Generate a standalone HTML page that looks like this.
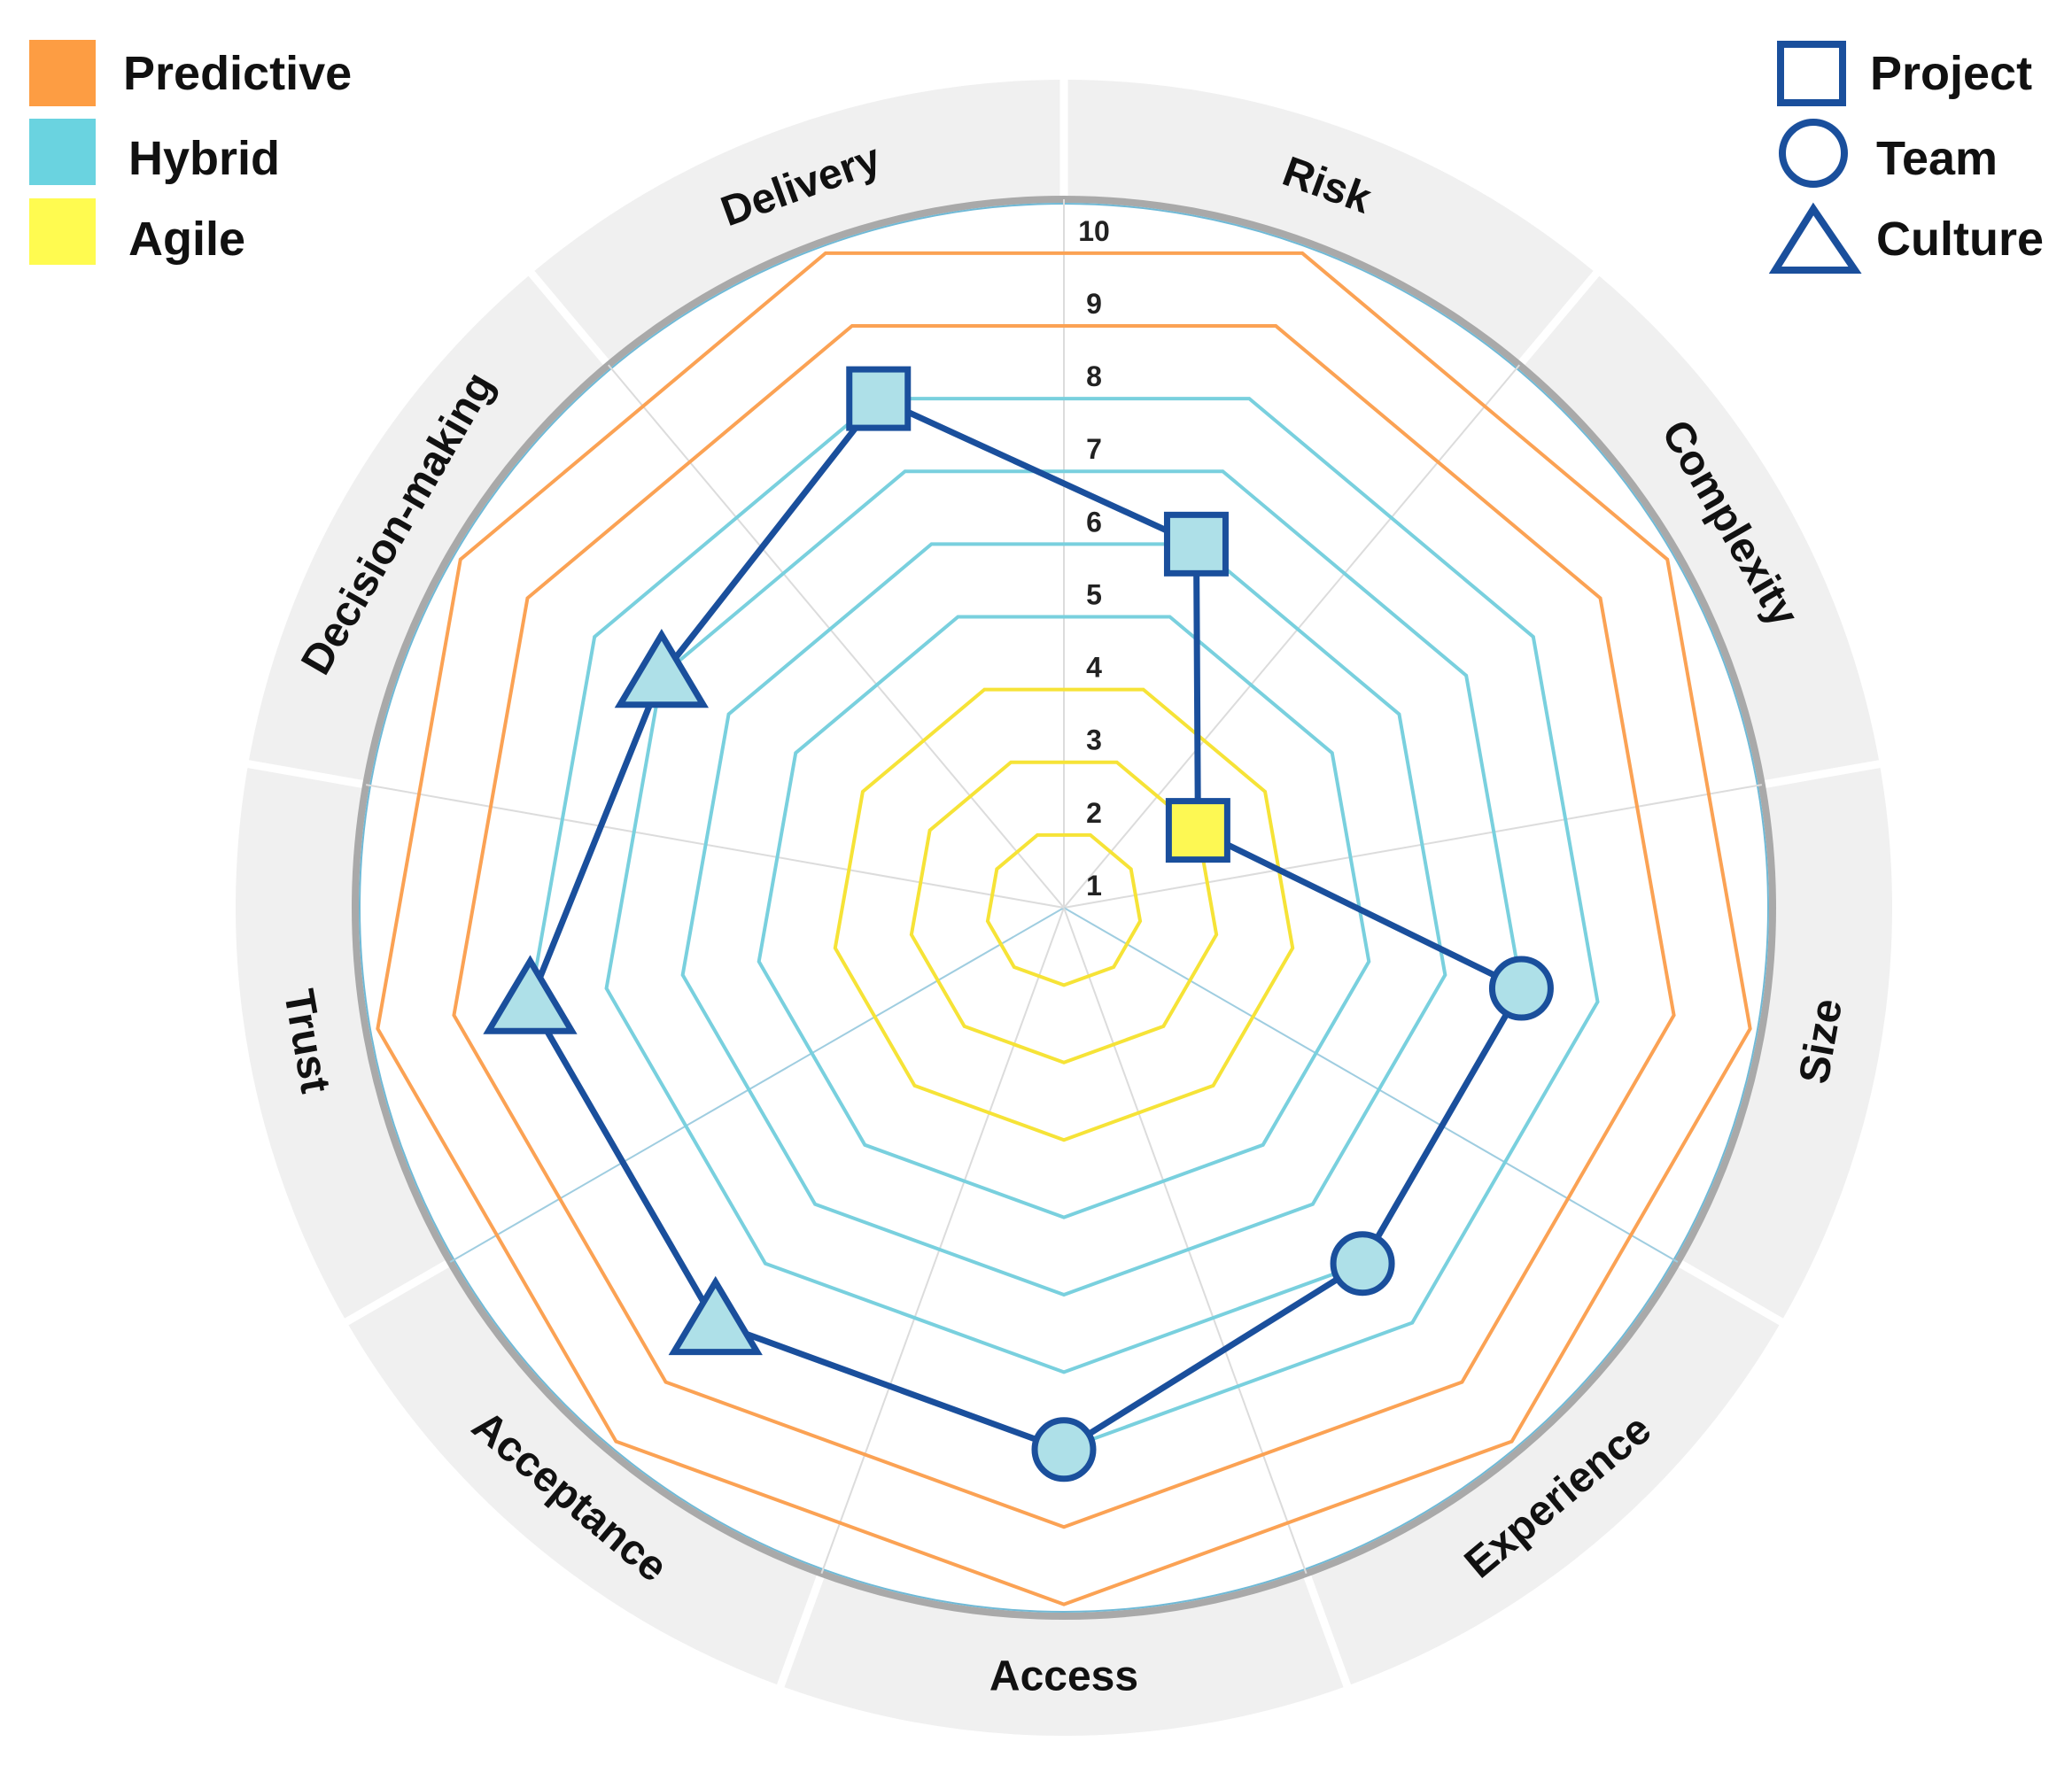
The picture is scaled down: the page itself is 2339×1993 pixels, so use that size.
<!DOCTYPE html>
<html><head><meta charset="utf-8"><style>
html,body{margin:0;padding:0;background:#fff;}
svg{display:block;font-family:"Liberation Sans",sans-serif;}
</style></head><body>
<svg id="chart" width="2339" height="1993" viewBox="0 0 2339 1993" xmlns="http://www.w3.org/2000/svg">
<g id="ring"></g>
<g id="grid"></g>
<g id="ticks"></g>
<g id="series"></g>
<g id="labels"></g>
<g>
  <rect x="33" y="45" width="75" height="75" fill="#fd9d43"/>
  <text x="139" y="101" font-size="54" font-weight="bold" fill="#111">Predictive</text>
  <rect x="33" y="134" width="75" height="75" fill="#6ad3e0"/>
  <text x="145" y="197" font-size="54" font-weight="bold" fill="#111">Hybrid</text>
  <rect x="33" y="224" width="75" height="75" fill="#fffb50"/>
  <text x="145" y="288" font-size="54" font-weight="bold" fill="#111">Agile</text>
</g>
<g stroke="#1a4f9c" stroke-width="8" fill="none">
  <rect x="2010" y="50" width="70" height="66"/>
  <circle cx="2047" cy="173" r="35"/>
  <polygon points="2047,236 2004,305 2094,305"/>
</g>
<g font-size="54" font-weight="bold" fill="#111">
  <text x="2111" y="101">Project</text>
  <text x="2118" y="197">Team</text>
  <text x="2118" y="288">Culture</text>
</g>
</svg>
<script>
const categories = ["Risk","Complexity","Size","Experience","Access","Acceptance","Trust","Decision-making","Delivery"];
const values = [6,3,7,7,8,8,8,7,8];
const markerShapes = ["square","square","circle","circle","circle","triangle","triangle","triangle","square"];
const levels = [2,3,4,5,6,7,8,9,10];
const tickLabels = ["1","2","3","4","5","6","7","8","9","10"];

const NS = "http://www.w3.org/2000/svg";
const CX = 1201, CY = 1025, UNIT = 87.4;
const N = categories.length;
function rScale(v){ return (v-1)*UNIT; }
function angleOf(i){ return (20 + i*40) * Math.PI/180; }
function pt(i, v){ const a = angleOf(i), r = rScale(v); return [CX + r*Math.sin(a), CY - r*Math.cos(a)]; }
function mk(tag, attrs, parent){ const e = document.createElementNS(NS, tag); for (const k in attrs) e.setAttribute(k, attrs[k]); parent.appendChild(e); return e; }
function levelColor(v){ return v>=9 ? "#fba254" : (v>=5 ? "#79d0de" : "#f6e337"); }

const ring = document.getElementById("ring");
let e = mk("circle", {cx:CX, cy:CY, r:868, fill:"none", stroke:"#f0f0f0", "stroke-width":134}, ring);


for (let k=0;k<N;k++){
  const a = k*40*Math.PI/180;
  e = mk("line", {x1:CX+795*Math.sin(a), y1:CY-795*Math.cos(a), x2:CX+945*Math.sin(a), y2:CY-945*Math.cos(a), stroke:"#fff", "stroke-width":9}, ring);
  
  
}
e = mk("circle", {cx:CX, cy:CY, r:800, fill:"#fff", stroke:"#a9a9a9", "stroke-width":8}, ring);


e = mk("circle", {cx:CX, cy:CY, r:795, fill:"none", stroke:"#6fb9d6", "stroke-width":2}, ring);



const grid = document.getElementById("grid");
for (let k=0;k<N;k++){
  const a = k*40*Math.PI/180;
  const col = (k===3||k===6) ? "#9fcde0" : "#dcdcdc";
  e = mk("line", {x1:CX, y1:CY, x2:CX+800*Math.sin(a), y2:CY-800*Math.cos(a), stroke:col, "stroke-width":2}, grid);
  
  
}
levels.forEach(v => {
  const pts = [];
  for (let i=0;i<N;i++) pts.push(pt(i, v).join(","));
  const p = mk("polygon", {points:pts.join(" "), fill:"none", stroke:levelColor(v), "stroke-width":4}, grid);
  
  
});

const ticks = document.getElementById("ticks");
tickLabels.forEach((t, idx) => {
  const v = idx + 1;
  const y = CY - rScale(v)*Math.cos(20*Math.PI/180) - 14;
  const tx = mk("text", {x:CX+34, y:y, "font-size":32, "font-weight":"bold", fill:"#222", "text-anchor":"middle"}, ticks);
  tx.textContent = t;
  
  
});

const series = document.getElementById("series");
const linePts = values.map((v,i) => pt(i,v).join(",")).join(" ");
e = mk("polygon", {points:linePts, fill:"none", stroke:"#1a4f9c", "stroke-width":7, "stroke-linejoin":"round"}, series);


values.forEach((v,i) => {
  const [x,y] = pt(i,v);
  const fill = v<=4 ? "#fdf853" : "#aee0e8";
  const st = {fill:fill, stroke:"#1a4f9c", "stroke-width":7};
  let m;
  if (markerShapes[i]==="square") m = mk("rect", Object.assign({x:x-33, y:y-33, width:66, height:66}, st), series);
  else if (markerShapes[i]==="circle") m = mk("circle", Object.assign({cx:x, cy:y, r:33}, st), series);
  else m = mk("polygon", Object.assign({points:`${x},${y-46} ${x-47},${y+33} ${x+47},${y+33}`}, st), series);
  
  
});

const labels = document.getElementById("labels");
categories.forEach((c,i) => {
  const deg = 20 + i*40;
  const a = deg*Math.PI/180;
  const R = 868;
  const x = CX + R*Math.sin(a), y = CY - R*Math.cos(a);
  let rot = deg;
  if (deg>90 && deg<270) rot = deg-180;
  else if (deg>=270) rot = deg-360;
  const t = mk("text", {x:x, y:y, "font-size":48, "font-weight":"bold", fill:"#111", "text-anchor":"middle", "dominant-baseline":"central", transform:`rotate(${rot} ${x} ${y})`}, labels);
  t.textContent = c;
  
  
});
</script>
</body></html>
